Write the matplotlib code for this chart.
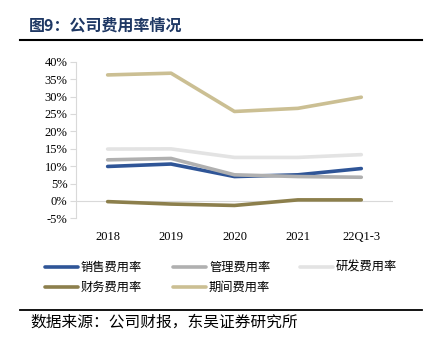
import matplotlib.pyplot as plt
from matplotlib.lines import Line2D
from matplotlib.ticker import FuncFormatter

plt.rcParams['font.family'] = ['Liberation Serif', 'Noto Sans CJK SC', 'DejaVu Sans']

years = ['2018', '2019', '2020', '2021', '22Q1-3']
sales = [9.9, 10.6, 7.0, 7.5, 9.3]
admin = [11.8, 12.2, 7.5, 7.0, 6.8]
rnd = [14.9, 14.95, 12.5, 12.5, 13.3]
finance = [-0.2, -0.9, -1.3, 0.3, 0.3]
period = [36.2, 36.7, 25.7, 26.6, 29.8]

names = ['销售费用率', '管理费用率', '研发费用率', '财务费用率', '期间费用率']
colors = ['#2f5597', '#b0b0b0', '#e3e3e3', '#8c7f4c', '#cbbf93']
series = [sales, admin, rnd, finance, period]

fig = plt.figure(figsize=(4.34, 3.51), dpi=100)
ax = fig.add_axes([0.175, 0.378, 0.7305, 0.4462])

x = range(len(years))
ax.axhline(0, color='#d9d9d9', lw=0.8, zorder=1)
for s, c in zip(series, colors):
    ax.plot(x, s, color=c, lw=2.6, solid_capstyle='round', zorder=3)

ax.set_xlim(-0.5, 4.5)
ax.set_ylim(-5, 40)
ax.set_yticks(range(-5, 41, 5))
ax.yaxis.set_major_formatter(FuncFormatter(lambda v, p: '%d%%' % v))
ax.set_xticks(list(x))
ax.set_xticklabels(years)
for side in ['top', 'right', 'bottom']:
    ax.spines[side].set_visible(False)
ax.spines['left'].set_color('#d9d9d9')
ax.spines['left'].set_linewidth(0.8)
ax.tick_params(axis='y', length=4, width=0.8, color='#d9d9d9', labelsize=9, pad=2)
ax.tick_params(axis='x', length=0, labelsize=9, pad=9)

# title and rules
fig.text(0.067, 0.928, '图9：公司费用率情况', fontsize=11.5, fontweight='bold',
         color='#1f3864', family=['Noto Sans CJK SC'], va='center')
fig.add_artist(Line2D([0.046, 0.972], [0.886, 0.886], color='black', lw=1.5))
fig.add_artist(Line2D([0.046, 0.972], [0.118, 0.118], color='black', lw=1.3))
fig.text(0.069, 0.082, '数据来源：公司财报，东吴证券研究所', fontsize=11.3,
         family=['Noto Sans CJK SC'], va='center')

# legend
leg_pos = [(45, 267), (173, 267), (300, 267), (45, 287), (173, 287)]
for (px, py), n, c in zip(leg_pos, names, colors):
    fy = 1 - py / 351
    fig.add_artist(Line2D([px / 434, (px + 33) / 434], [fy, fy], color=c, lw=2.6,
                          solid_capstyle='round'))
    fig.text((px + 36) / 434, fy, n, fontsize=8.8, family=['Noto Sans CJK SC'],
             va='center')

fig.savefig('out.png', dpi=100)
